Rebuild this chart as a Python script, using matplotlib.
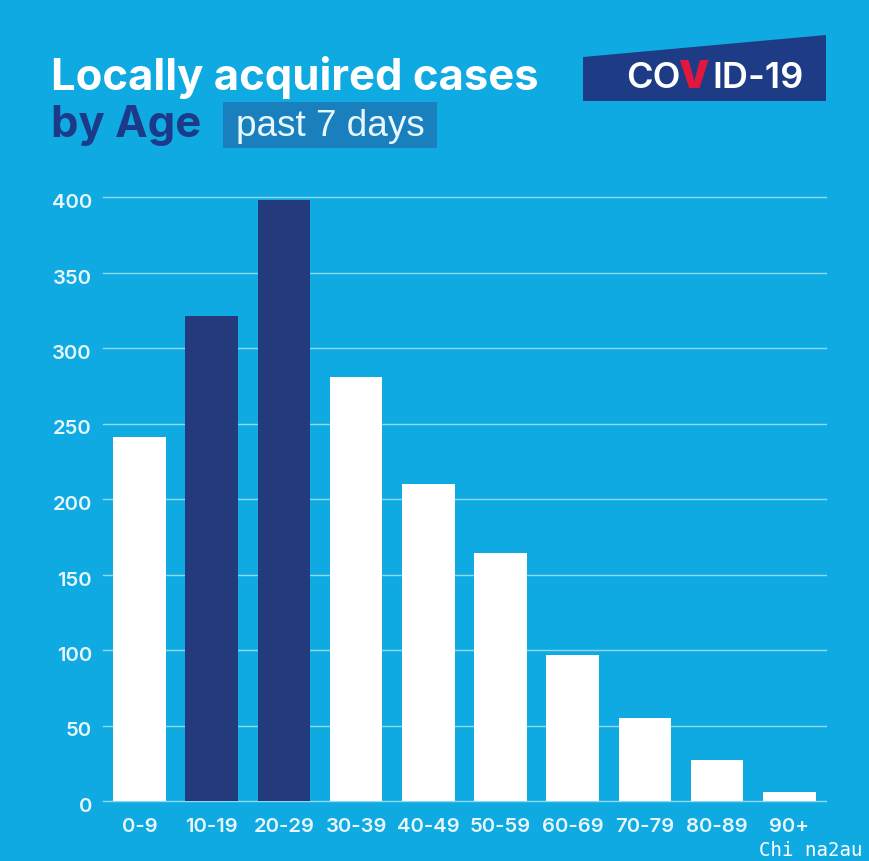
import matplotlib
matplotlib.use("Agg")
import matplotlib.pyplot as plt
from matplotlib.patches import Polygon, Rectangle
from matplotlib.transforms import Affine2D, ScaledTranslation

categories = ["0-9", "10-19", "20-29", "30-39", "40-49", "50-59", "60-69", "70-79", "80-89", "90+"]
cases = [241, 321, 398, 281, 210, 164, 97, 55, 27, 6]
highlighted = ["10-19", "20-29"]
y_ticks = [0, 50, 100, 150, 200, 250, 300, 350, 400]

BG = "#0faae2"
NAVY = "#233a7c"
DARK = "#1c3a8a"
W, H = 870, 861

fig = plt.figure(figsize=(W / 100, H / 100), dpi=100, facecolor=BG)
px = Affine2D().scale(1 / W, -1 / H).translate(0, 1) + fig.transFigure

ax = fig.add_axes([103 / W, 1 - 801 / H, (826 - 103) / W, (801 - 197) / H], facecolor=BG)
colors = [NAVY if c in highlighted else "white" for c in categories]
x = list(range(len(categories)))
ax.bar(x, cases, width=0.73, color=colors, zorder=3)
ax.set_xlim(-0.505, 9.508)
ax.set_ylim(0, 400)
ax.set_yticks(y_ticks)
ax.set_xticks(x)
ax.set_xticklabels(categories)
ax.grid(axis="y", color="#8fd8f2", lw=1, zorder=1)
for gl in ax.get_ygridlines():
    gl.set_clip_on(False)
ax.set_axisbelow(True)
for s in ax.spines.values():
    s.set_visible(False)
ax.tick_params(axis="both", length=0, labelcolor="#e6f6fc")
ax.tick_params(axis="x", pad=12)
ax.tick_params(axis="y", pad=8)
for t in ax.get_xticklabels():
    t.set_fontfamily("Inter"); t.set_fontweight("semibold"); t.set_fontsize(14.6)
down = ScaledTranslation(0, -4 / 100, fig.dpi_scale_trans)
for t in ax.get_yticklabels():
    t.set_fontfamily("Inter"); t.set_fontweight("semibold"); t.set_fontsize(14.6)
    t.set_transform(t.get_transform() + down)

# Title block
fig.text(51, 90, "Locally acquired cases", transform=px, color="white", family="Inter",
         weight="bold", fontsize=31.4, va="baseline")
fig.text(51, 137.5, "by Age", transform=px, color=DARK, family="Inter",
         weight="bold", fontsize=31.4, va="baseline")
fig.add_artist(Rectangle((223, 102), 214, 46, transform=px, color="#1a7fbd", lw=0))
fig.text(236, 136, "past 7 days", transform=px, color="#e8f7fd", family="Liberation Sans",
         fontsize=26.6, va="baseline")

# Logo
fig.add_artist(Polygon([(583, 57), (826, 35), (826, 101), (583, 101)], closed=True,
                       transform=px, color="#1e3c85", lw=0))
fig.text(626, 87.5, "CO", transform=px, color="white", family="Inter", weight="semibold",
         fontsize=26, va="baseline")
fig.text(678, 87.5, "V", transform=px, color="#e3173e", family="Inter", weight="black",
         fontsize=27.5, va="baseline")
fig.text(712, 87.5, "ID-19", transform=px, color="white", family="Inter", weight="semibold",
         fontsize=26, va="baseline")

# Watermark
fig.text(759, 856, "Chi na2au", transform=px, color="white", family="DejaVu Sans Mono",
         fontsize=13.7, va="baseline")

fig.savefig("out.png", dpi=100, facecolor=BG)
